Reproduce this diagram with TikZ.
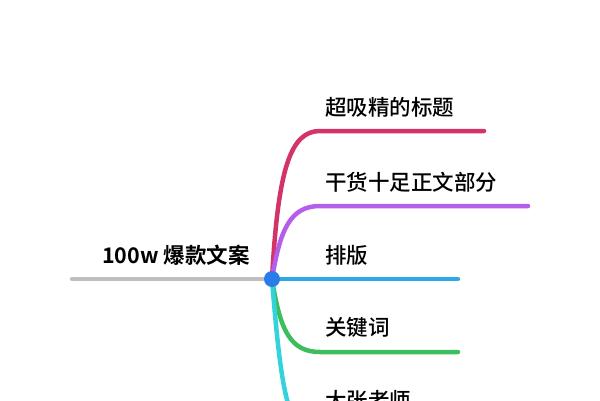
\documentclass[tikz,border=0pt]{standalone}
\usepackage{fontspec}
\setmainfont{Noto Sans CJK SC Medium}
\newfontfamily\cjkb{Noto Sans CJK SC Bold}
\definecolor{cred}{HTML}{D33468}
\definecolor{cpur}{HTML}{B55EEA}
\definecolor{cblu}{HTML}{2FA8E8}
\definecolor{cgrn}{HTML}{3DBE5C}
\definecolor{ccya}{HTML}{34D2DA}
\definecolor{cdot}{HTML}{2A7DE8}
\begin{document}
\begin{tikzpicture}[x=1pt,y=-1pt,
  br/.style={line width=4.5pt,line cap=round},
  lbl/.style={anchor=west,font=\fontsize{21.5}{21.5}\selectfont,inner sep=0pt}]
\useasboundingbox (0,0) rectangle (600,400);
\coordinate (c) at (272,279);
\draw[br,gray!50] (72,279) -- (c);
\draw[br,cred] (c) .. controls (278,170) and (290,131) .. (320,131) -- (484,131);
\draw[br,cpur] (c) .. controls (280,230) and (290,206) .. (320,206) -- (528,206);
\draw[br,cblu] (c) -- (458,279);
\draw[br,cgrn] (c) .. controls (280,330) and (290,352) .. (320,352) -- (458,352);
\draw[br,ccya] (c) .. controls (280,380) and (286,410) .. (300,430);
\node[circle,fill=cdot,minimum size=16pt,inner sep=0pt] (dot) at (c) {};
\node[anchor=east,font=\cjkb\fontsize{21.5}{21.5}\selectfont,inner sep=0pt] (t0) at (250,255) {100w 爆款文案};
\node[lbl] (t1) at (325,107) {超吸精的标题};
\node[lbl] (t2) at (325,182) {干货十足正文部分};
\node[lbl] (t3) at (325,255) {排版};
\node[lbl] (t4) at (325,327) {关键词};
\node[lbl] (t5) at (325,400) {大张老师};
\end{tikzpicture}
\end{document}
